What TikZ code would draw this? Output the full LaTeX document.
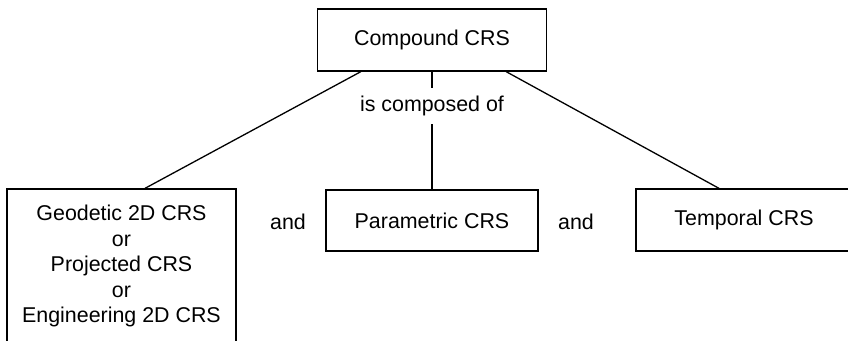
\documentclass[tikz,border=0pt]{standalone}
\usepackage{fontspec}
\setmainfont{Liberation Sans}
\begin{document}
\begin{tikzpicture}[x=1pt,y=-1pt,line width=1.3pt]
  \tikzstyle{crsbox}=[draw,rectangle,align=center,inner sep=0pt,font=\fontsize{21.4}{25.5}\selectfont]
  \tikzstyle{word}=[inner sep=0pt,font=\fontsize{21.4}{25.5}\selectfont]
  \useasboundingbox (0,0) rectangle (848,340);
  \clip (0,0) rectangle (848,340);
  \node[crsbox,minimum width=229pt,minimum height=62pt] (compound) at (432,40) {Compound CRS};
  \node[word,minimum height=35pt] (composed) at (432,106) {is composed of};

  \node[crsbox,minimum width=229pt,minimum height=154pt] (geo) at (121.5,266)
    {Geodetic 2D CRS\\or\\Projected CRS\\or\\Engineering 2D CRS};
  \node[crsbox,minimum width=212pt,minimum height=61pt] (param) at (432,220.5) {Parametric CRS};
  \node[crsbox,minimum width=216pt,minimum height=62pt] (temporal) at (744,220) {Temporal CRS};

  \node[word] (and1) at (288,222) {and};
  \node[word] (and2) at (576,222) {and};
  % links
  \draw (compound.south) -- (composed.north);
  \draw (composed.south) -- (param.north);
  \draw ([xshift=44pt]compound.south west) -- ([xshift=23.5pt]geo.north);
  \draw ([xshift=-41pt]compound.south east) -- ([xshift=-25pt]temporal.north);
\end{tikzpicture}
\end{document}
